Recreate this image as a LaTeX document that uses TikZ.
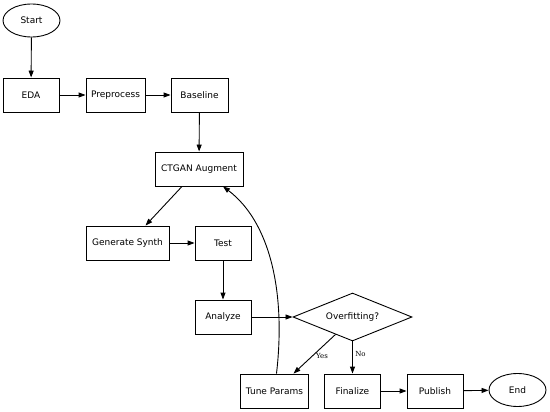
\documentclass[tikz,border=0pt]{standalone}
\usepackage{fontspec}
\setmainfont{DejaVu Sans}
\newfontfamily\lblfont{DejaVu Serif}
\usetikzlibrary{shapes.geometric,arrows.meta}
\begin{document}
\begin{tikzpicture}[x=1pt,y=-1pt,
  every node/.style={font=\fontsize{9}{11}\selectfont, line width=0.9pt},
  box/.style={draw, rectangle, minimum height=34pt, inner sep=0pt},
  term/.style={draw, ellipse, minimum width=57pt, minimum height=33pt, inner sep=0pt},
  dec/.style={draw, diamond, minimum width=119pt, minimum height=48pt, inner sep=0pt, aspect=2.5},
  arr/.style={line width=0.9pt, -{Triangle[length=7pt,width=5pt]}},
  lbl/.style={font=\lblfont\fontsize{7}{8}\selectfont}]
\useasboundingbox (0,0) rectangle (550,412);
\node[term] (start) at (31.5,20.5) {Start};
\node[box, minimum width=56pt] (eda) at (31,95) {EDA};
\node[box, minimum width=59pt] (pre) at (115.5,95) {Preprocess};
\node[box, minimum width=57pt] (base) at (199.5,95) {Baseline};
\node[box, minimum width=88pt] (ctgan) at (199,169) {CTGAN Augment};
\node[box, minimum width=83pt] (gen) at (127.5,243) {Generate Synth};
\node[box, minimum width=56pt] (test) at (223,243) {Test};
\node[box, minimum width=56pt] (ana) at (223,317) {Analyze};
\node[dec] (over) at (352.5,317) {Overfitting?};
\node[box, minimum width=68pt] (tune) at (274.5,391) {Tune Params};
\node[box, minimum width=56pt] (fin) at (352.5,391) {Finalize};
\node[box, minimum width=56pt] (pub) at (435,391) {Publish};
\node[term] (end) at (517.5,390) {End};
\path (ctgan.south) ++(-17,0) coordinate (c1);
\path (over.south) ++(-17,-7) coordinate (o1);
\draw[arr] (start) -- (eda);
\draw[arr] (eda) -- (pre);
\draw[arr] (pre) -- (base);
\draw[arr] (base) -- (ctgan);
\draw[arr] (c1) -- ([xshift=18pt]gen.north);
\draw[arr] (gen) -- (test);
\draw[arr] (test) -- (ana);
\draw[arr] (ana) -- (over);
\draw[arr] (o1) -- node[lbl, right, pos=0.55] {Yes} ([xshift=19pt]tune.north);
\draw[arr] (over.south) -- node[lbl, right, pos=0.4, xshift=-1pt] {No} (fin.north);
\draw[arr] (fin) -- (pub);
\draw[arr] (pub) -- (end);
\draw[arr] ([xshift=2pt]tune.north) .. controls (286,292) and (270,222) .. ([xshift=24pt]ctgan.south);
\end{tikzpicture}
\end{document}
